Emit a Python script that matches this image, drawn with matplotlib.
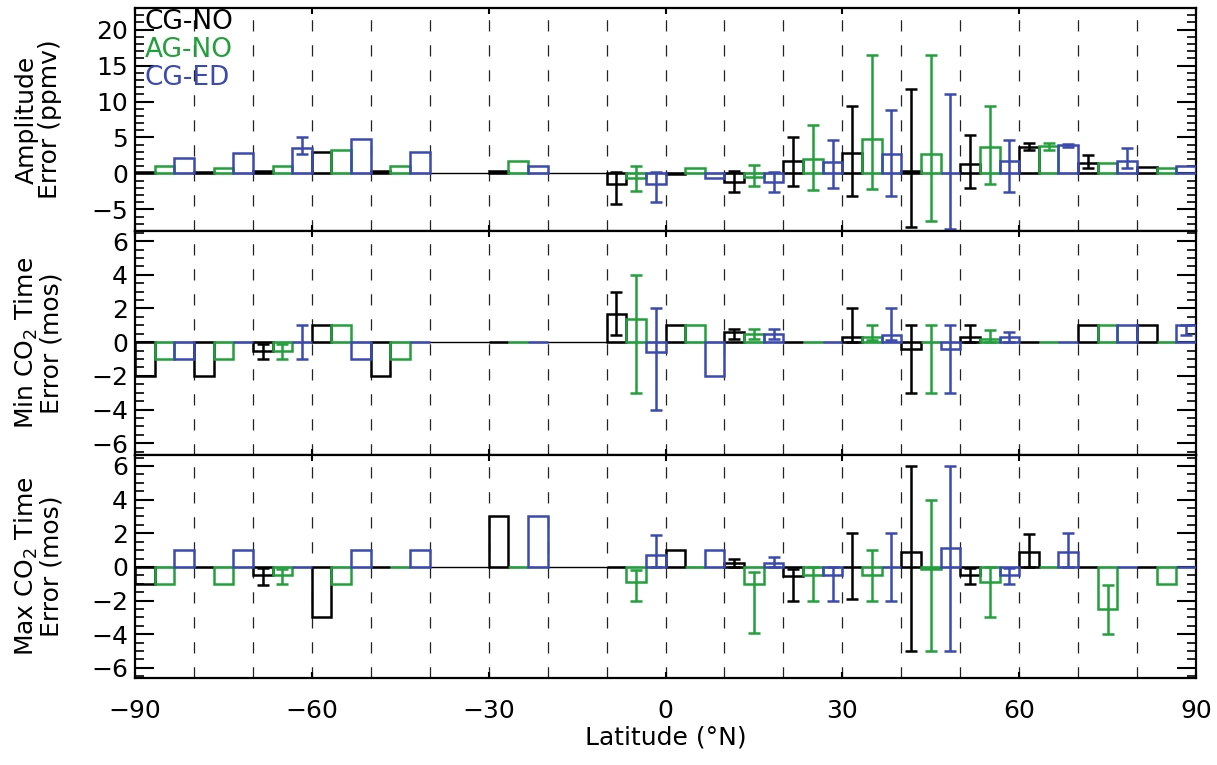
import numpy as np
import matplotlib
matplotlib.use("Agg")
import matplotlib.pyplot as plt
from matplotlib.ticker import MultipleLocator

nan = np.nan

# ---------------- data ----------------
bin_centers = [-85, -75, -65, -55, -45, -35, -25, -15, -5, 5, 15, 25, 35, 45, 55, 65, 75, 85]
series_names = ["CG-NO", "AG-NO", "CG-ED"]
series_colors = ["#000000", "#22a03c", "#3a4ab0"]

# Amplitude error (ppmv)
amp_cgno = [0.2, 0.2, 0.4, 3.0, 0.4, nan, 0.3, nan, -1.5, -0.1, -1.2, 1.7, 2.8, 0.3, 1.3, 3.7, 1.5, 0.9]
amp_cgno_lo = [nan, nan, nan, nan, nan, nan, nan, nan, -4.2, nan, -2.6, -1.7, -3.1, -7.5, -2.0, 3.2, 0.8, nan]
amp_cgno_hi = [nan, nan, nan, nan, nan, nan, nan, nan, 0.2, nan, 0.3, 5.0, 9.4, 11.8, 5.4, 4.2, 2.5, nan]
amp_agno = [1.0, 0.8, 1.0, 3.3, 1.0, nan, 1.7, nan, -0.7, 0.8, -0.5, 2.0, 4.8, 2.7, 3.7, 3.8, 1.5, 0.8]
amp_agno_lo = [nan, nan, nan, nan, nan, nan, nan, nan, -2.5, nan, -1.8, -2.3, -2.1, -6.6, -1.4, 3.2, nan, nan]
amp_agno_hi = [nan, nan, nan, nan, nan, nan, nan, nan, 1.0, nan, 1.2, 6.8, 16.5, 16.5, 9.4, 4.2, nan, nan]
amp_cged = [2.2, 2.9, 3.5, 4.8, 3.0, nan, 1.0, nan, -1.4, -0.6, -1.2, 1.6, 2.7, 0.0, 1.7, 3.9, 1.7, 1.0]
amp_cged_lo = [nan, nan, 2.7, nan, nan, nan, nan, nan, -4.0, nan, -2.6, -2.0, -3.2, -7.7, -2.6, 3.7, 0.8, nan]
amp_cged_hi = [nan, nan, 5.0, nan, nan, nan, nan, nan, 0.2, nan, 0.2, 4.7, 8.8, 11.0, 4.6, 4.1, 3.5, nan]

# Min CO2 time error (mos)
min_cgno = [-2.0, -2.0, -0.5, 1.0, -2.0, nan, 0.0, nan, 1.7, 1.0, 0.6, 0.0, 0.3, -0.4, 0.3, 0.0, 1.0, 1.0]
min_cgno_lo = [nan, nan, -1.0, nan, nan, nan, nan, nan, 0.4, nan, 0.2, nan, 0.0, -3.0, 0.0, nan, nan, nan]
min_cgno_hi = [nan, nan, -0.1, nan, nan, nan, nan, nan, 3.0, nan, 0.8, nan, 2.0, 1.0, 1.0, nan, nan, nan]
min_agno = [-1.0, -1.0, -0.5, 1.0, -1.0, nan, 0.0, nan, 1.35, 1.0, 0.5, 0.0, 0.3, 0.0, 0.2, 0.0, 1.0, 0.0]
min_agno_lo = [nan, nan, -1.0, nan, nan, nan, nan, nan, -3.0, nan, 0.2, nan, 0.1, -3.0, 0.0, nan, nan, nan]
min_agno_hi = [nan, nan, -0.1, nan, nan, nan, nan, nan, 4.0, nan, 0.8, nan, 1.0, 1.0, 0.7, nan, nan, nan]
min_cged = [-1.0, 0.0, 0.0, -1.0, 0.0, nan, 0.0, nan, -0.6, -2.0, 0.5, 0.0, 0.4, -0.4, 0.3, 0.0, 1.0, 1.0]
min_cged_lo = [nan, nan, -1.0, nan, nan, nan, nan, nan, -4.0, nan, 0.2, nan, 0.1, -3.0, 0.0, nan, nan, 0.4]
min_cged_hi = [nan, nan, 1.0, nan, nan, nan, nan, nan, 2.0, nan, 0.8, nan, 2.0, 1.0, 0.6, nan, nan, 1.0]

# Max CO2 time error (mos)
max_cgno = [-1.0, 0.0, -0.5, -3.0, 0.0, nan, 3.0, nan, 0.0, 1.0, 0.25, -0.55, 0.0, 0.9, -0.5, 0.9, 0.0, 0.0]
max_cgno_lo = [nan, nan, -1.1, nan, nan, nan, nan, nan, nan, nan, 0.0, -2.0, -1.9, -5.0, -1.0, 0.0, nan, nan]
max_cgno_hi = [nan, nan, -0.05, nan, nan, nan, nan, nan, nan, nan, 0.5, -0.1, 2.0, 6.0, -0.05, 1.95, nan, nan]
max_agno = [-1.0, -1.0, -0.5, -1.0, 0.0, nan, 0.0, nan, -0.9, 0.0, -1.0, -0.5, -0.5, -0.15, -0.9, 0.0, -2.5, -1.0]
max_agno_lo = [nan, nan, -1.0, nan, nan, nan, nan, nan, -2.0, nan, -3.9, -2.0, -2.0, -5.0, -3.0, nan, -4.0, nan]
max_agno_hi = [nan, nan, -0.1, nan, nan, nan, nan, nan, -0.2, nan, -0.3, 0.0, 1.0, 4.0, 0.0, nan, -1.1, nan]
max_cged = [1.0, 1.0, 0.0, 1.0, 1.0, nan, 3.0, nan, 0.7, 1.0, 0.25, -0.5, 0.0, 1.1, -0.5, 0.9, 0.0, 0.0]
max_cged_lo = [nan, nan, nan, nan, nan, nan, nan, nan, 0.0, nan, 0.0, -2.0, -2.0, -5.0, -1.0, 0.0, nan, nan]
max_cged_hi = [nan, nan, nan, nan, nan, nan, nan, nan, 1.9, nan, 0.6, 0.0, 2.0, 6.0, -0.05, 2.0, nan, nan]

panels = [
    dict(vals=[amp_cgno, amp_agno, amp_cged],
         lo=[amp_cgno_lo, amp_agno_lo, amp_cged_lo],
         hi=[amp_cgno_hi, amp_agno_hi, amp_cged_hi],
         ylim=(-8, 23), minor=1, ticks=[-5, 0, 5, 10, 15, 20],
         ylabel="Amplitude\nError (ppmv)"),
    dict(vals=[min_cgno, min_agno, min_cged],
         lo=[min_cgno_lo, min_agno_lo, min_cged_lo],
         hi=[min_cgno_hi, min_agno_hi, min_cged_hi],
         ylim=(-6.7, 6.6), minor=0.5, ticks=[-6, -4, -2, 0, 2, 4, 6],
         ylabel="Min CO$_2$ Time\nError (mos)"),
    dict(vals=[max_cgno, max_agno, max_cged],
         lo=[max_cgno_lo, max_agno_lo, max_cged_lo],
         hi=[max_cgno_hi, max_agno_hi, max_cged_hi],
         ylim=(-6.6, 6.65), minor=0.5, ticks=[-6, -4, -2, 0, 2, 4, 6],
         ylabel="Max CO$_2$ Time\nError (mos)"),
]
xticks = [-90, -60, -30, 0, 30, 60, 90]
xlabel = "Latitude (°N)"

# ---------------- figure ----------------
W, H = 1217, 765
fig = plt.figure(figsize=(W / 100, H / 100), dpi=100)
left, right = 135 / W, 1196 / W
edges = [8, 231, 455, 678]
fs = 18

bw = 10.0 / 3.0
offsets = [-bw, 0.0, bw]

for k, p in enumerate(panels):
    top_px, bot_px = edges[k], edges[k + 1]
    ax = fig.add_axes([left, 1 - bot_px / H, right - left, (bot_px - top_px) / H])
    ax.set_xlim(-90, 90)
    ax.set_ylim(*p["ylim"])
    for xv in range(-80, 90, 10):
        ax.axvline(xv, color="#222222", lw=0.9, ls=(0, (9, 11)), zorder=0)
    ax.axhline(0, color="k", lw=1.0, zorder=1)
    xc = np.array(bin_centers, dtype=float)
    for s in range(3):
        v = np.array(p["vals"][s], dtype=float)
        lo = np.array(p["lo"][s], dtype=float)
        hi = np.array(p["hi"][s], dtype=float)
        xs = xc + offsets[s]
        m = ~np.isnan(v)
        ax.bar(xs[m], v[m], width=bw, fill=False, edgecolor=series_colors[s],
               linewidth=1.8, zorder=3)
        me = ~np.isnan(lo)
        mid = (lo[me] + hi[me]) / 2
        ax.errorbar(xs[me], mid, yerr=(hi[me] - lo[me]) / 2, fmt="none",
                    ecolor=series_colors[s], elinewidth=1.8, capsize=4.5,
                    capthick=1.8, zorder=4)
    ax.set_yticks(p["ticks"])
    ax.yaxis.set_minor_locator(MultipleLocator(p["minor"]))
    ax.set_xticks(xticks)
    ax.tick_params(axis="y", which="major", direction="in", length=13.5, width=1.5,
                   left=True, right=True, labelsize=fs, pad=5)
    ax.tick_params(axis="y", which="minor", direction="in", length=6.5, width=1.2,
                   left=True, right=True)
    ax.tick_params(axis="x", which="major", direction="in", length=4, width=1.5,
                   top=True, bottom=True, labelsize=fs, pad=15)
    if k < 2:
        ax.tick_params(axis="x", labelbottom=False)
    else:
        ax.set_xlabel(xlabel, fontsize=fs, labelpad=2)
    for sp in ax.spines.values():
        sp.set_linewidth(1.6)
    fig.text(38 / W, 1 - (top_px + bot_px) / 2 / H, p["ylabel"], rotation=90,
             ha="center", va="center", fontsize=fs, multialignment="center",
             linespacing=0.95)

# legend texts
for i, (name, col) in enumerate(zip(series_names, series_colors)):
    fig.text(145 / W, 1 - (22 + 28 * i) / H, name, color=col, fontsize=19,
             ha="left", va="center")

fig.savefig("out.png", dpi=100)
